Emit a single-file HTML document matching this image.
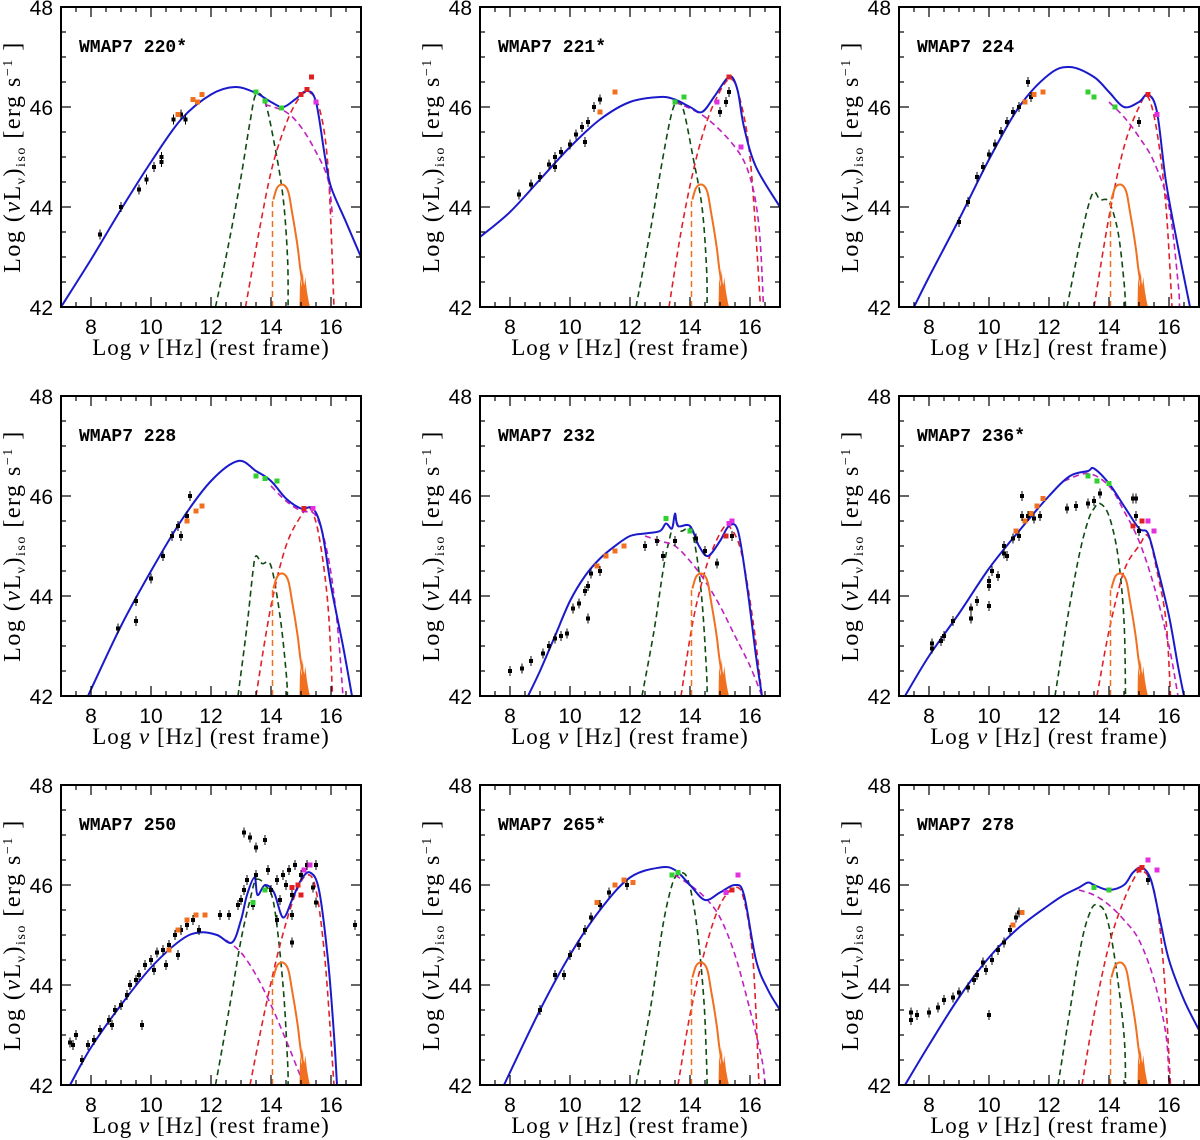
<!DOCTYPE html>
<html><head><meta charset="utf-8">
<style>
html,body{margin:0;padding:0;background:#fff;}
svg{display:block;}
.tk{font-family:"Liberation Sans",sans-serif;font-size:21px;fill:#000;}
.lab{font-family:"Liberation Serif",serif;font-size:23px;fill:#000;letter-spacing:1px;}
.ylab{font-family:"Liberation Serif",serif;font-size:24px;fill:#000;letter-spacing:1.5px;}
.ttl{font-family:"Liberation Mono",monospace;font-size:18px;font-weight:bold;fill:#000;}
</style></head>
<body>
<svg id="fig" width="1200" height="1140" viewBox="0 0 1200 1140" xmlns="http://www.w3.org/2000/svg"></svg>
<script>
const titles=["WMAP7 220*","WMAP7 221*","WMAP7 224","WMAP7 228","WMAP7 232","WMAP7 236*","WMAP7 250","WMAP7 265*","WMAP7 278"];
const xTicks=[8,10,12,14,16];
const yTicks=[42,44,46,48];
const blueCurves=[
[[7,42],[8,42.95],[9,43.95],[10,44.9],[11,45.75],[12,46.25],[12.8,46.4],[13.5,46.28],[14,46.1],[14.4,46.0],[14.8,46.15],[15.2,46.32],[15.5,46.1],[15.8,45.0],[16,44.4],[16.5,43.7],[17,43.0]],
[[7,43.4],[8,43.9],[9,44.55],[10,45.2],[11,45.75],[12,46.1],[13,46.2],[13.5,46.15],[14,46.0],[14.4,45.9],[14.8,46.2],[15.2,46.55],[15.4,46.6],[15.6,46.3],[15.8,45.6],[16.2,44.8],[17,44.0]],
[[7.5,42],[8,42.6],[9,43.75],[10,44.95],[11,46.0],[12,46.65],[12.7,46.8],[13.5,46.6],[14,46.3],[14.5,46.0],[15,46.1],[15.3,46.25],[15.6,45.9],[15.9,44.5],[16.3,43.2],[16.7,42]],
[[7.9,42],[9,43.4],[10,44.5],[11,45.5],[12,46.3],[12.9,46.7],[13.5,46.5],[14,46.3],[14.5,45.95],[15,45.75],[15.4,45.75],[15.7,45.3],[16,44.2],[16.4,43],[16.7,42]],
[[8.6,42],[9,42.5],[9.5,43.2],[10,43.9],[10.5,44.4],[11,44.75],[11.5,45.0],[12,45.2],[12.5,45.25],[13,45.3],[13.2,45.45],[13.4,45.35],[13.5,45.65],[13.6,45.4],[14,45.4],[14.3,45.0],[14.6,44.8],[15,45.1],[15.3,45.4],[15.6,45.3],[15.9,44.2],[16.2,42.8],[16.4,42]],
[[7.2,42],[8,42.8],[9,43.65],[10,44.55],[11,45.3],[12,46.0],[12.7,46.4],[13.3,46.5],[13.5,46.55],[14,46.25],[14.5,45.8],[15,45.35],[15.3,45.25],[15.6,44.6],[16,43.6],[16.3,42.6],[16.5,42]],
[[7.3,42],[8,42.75],[9,43.6],[10,44.35],[11,44.9],[11.6,45.05],[12.2,45.0],[12.7,44.85],[13,45.3],[13.2,45.8],[13.45,46.15],[13.55,45.8],[13.8,46.0],[14.1,45.85],[14.4,45.35],[14.7,45.7],[15,46.1],[15.3,46.25],[15.6,45.9],[15.9,44.5],[16.1,43],[16.2,42]],
[[7.8,42],[9,43.5],[10,44.6],[11,45.5],[12,46.15],[13,46.35],[13.5,46.3],[14,46.0],[14.5,45.7],[15,45.85],[15.5,46.0],[15.8,45.8],[16.2,44.5],[16.6,43.9],[17,43.5]],
[[7.2,42],[8,42.8],[9,43.75],[10,44.55],[11,45.15],[12,45.6],[12.5,45.8],[13,45.95],[13.3,46.05],[13.5,46.0],[14,45.9],[14.5,46.0],[14.8,46.25],[15.1,46.35],[15.4,46.1],[15.7,45.3],[16,44.5],[16.5,43.7],[17,43.1]]
];
const magentaCurves=[
[[13.8,46.05],[14.5,45.9],[15,45.6],[15.5,45.1],[15.9,44.55],[16.05,43.8]],
[[13.5,46.1],[14.5,45.8],[15.5,45.2],[16,44.6],[16.3,43.6],[16.45,42]],
[[14,46.1],[14.5,45.8],[15,45.4],[15.5,44.9],[16,44.0],[16.3,42.5],[16.35,42]],
[[14,46.2],[14.5,45.9],[15,45.7],[15.5,45.6],[15.9,44.8],[16.2,43.5],[16.4,42]],
[[12.5,45.2],[13,45.1],[13.5,45.0],[14,44.7],[14.5,44.3],[15,43.8],[15.5,43.2],[16,42.6],[16.4,42]],
[[12.5,46.3],[13.3,46.45],[14,46.2],[14.5,45.7],[15,45.1],[15.5,44.2],[16,43.0],[16.3,42]],
[[12.5,44.9],[13,44.65],[13.5,44.2],[14,43.6],[14.5,42.9],[14.9,42.3],[15.1,42]],
[[13.5,46.2],[14,46.0],[14.5,45.75],[15,45.35],[15.5,44.6],[16,43.5],[16.4,42.5],[16.5,42]],
[[13,45.9],[13.5,45.8],[14,45.6],[14.5,45.3],[15,44.9],[15.5,44.1],[15.9,43.0],[16,42]]
];
const greenCurves=[
[[12.15,42],[12.6,43.3],[13,44.6],[13.3,45.7],[13.5,46.25],[13.8,46.1],[14.1,45.3],[14.4,44.2],[14.55,43],[14.57,42]],
[[12.2,42],[12.7,43.6],[13.1,45.0],[13.4,45.9],[13.6,46.1],[13.8,45.9],[14.1,45.0],[14.4,44.0],[14.55,42.8],[14.57,42]],
[[12.6,42],[13,43.2],[13.3,44.0],[13.5,44.3],[13.7,44.15],[14.0,44.1],[14.3,43.5],[14.5,42.5],[14.55,42]],
[[12.9,42],[13.2,43.4],[13.4,44.5],[13.5,44.8],[13.7,44.65],[14.0,44.6],[14.3,43.6],[14.5,42.5],[14.55,42]],
[[12.4,42],[12.8,43.3],[13.1,44.5],[13.3,45.1],[13.5,45.5],[13.7,45.3],[14,45.35],[14.2,44.9],[14.4,43.9],[14.55,42.5],[14.57,42]],
[[12.2,42],[12.6,43.5],[13,44.8],[13.3,45.5],[13.5,45.75],[13.7,45.85],[14,45.6],[14.3,44.8],[14.5,43.5],[14.55,42]],
[[12.15,42],[12.6,43.5],[13,44.9],[13.3,45.7],[13.5,46.1],[13.8,46.0],[14.1,45.6],[14.4,44.0],[14.55,42.5],[14.57,42]],
[[12.2,42],[12.7,43.6],[13.1,45.2],[13.4,46.0],[13.6,46.2],[13.9,46.15],[14.2,45.3],[14.45,43.8],[14.55,42.5],[14.57,42]],
[[12.3,42],[12.7,43.5],[13.1,44.9],[13.4,45.5],[13.6,45.6],[13.9,45.4],[14.2,44.5],[14.5,43],[14.55,42]]
];
const redCurves=[
[[13.15,42],[13.6,43.5],[14,44.7],[14.4,45.5],[14.8,46.05],[15.2,46.3],[15.6,46.0],[15.9,44.8],[16.1,42]],
[[13.3,42],[13.7,43.5],[14.1,44.7],[14.5,45.6],[14.9,46.2],[15.3,46.55],[15.6,46.3],[16,45.0],[16.35,42]],
[[13.5,42],[14,43.8],[14.5,45.2],[15,46.0],[15.3,46.2],[15.6,45.5],[15.9,44],[16.1,42]],
[[13.5,42],[14,43.8],[14.5,45.0],[15,45.6],[15.3,45.75],[15.6,45.2],[15.9,43.8],[16.05,42]],
[[13.7,42],[14.1,43.5],[14.5,44.5],[14.8,45.0],[15.1,45.35],[15.3,45.4],[15.7,44.9],[16.1,43.5],[16.4,42]],
[[13.6,42],[14,43.3],[14.5,44.5],[15,45.0],[15.3,45.2],[15.6,44.5],[15.9,43.5],[16.05,42]],
[[13.3,42],[13.8,43.5],[14.3,44.8],[14.8,45.8],[15.2,46.2],[15.5,45.9],[15.8,44.5],[16.1,42]],
[[13.6,42],[14,43.4],[14.5,44.7],[15,45.6],[15.5,45.95],[15.8,45.7],[16.1,44.5],[16.3,42]],
[[13.1,42],[13.5,43.4],[14,44.8],[14.5,45.7],[14.9,46.2],[15.1,46.3],[15.5,45.9],[15.8,44.5],[16.05,42]]
];
const orangeTemplate=[[14.08,44.15],[14.2,44.38],[14.35,44.45],[14.5,44.4],[14.6,44.25],[14.7,43.9],[14.8,43.55],[14.9,43.15],[14.98,42.75],[15.05,42.5],[15.12,42.35],[15.2,42.15],[15.25,42]];
const blackPts=[
[[8.3,43.45],[9,44],[9.6,44.35],[9.85,44.55],[10.1,44.8],[10.35,45.0],[10.35,44.9],[10.75,45.75],[11,45.85],[11.15,45.75]],
[[8.3,44.25],[8.7,44.45],[9,44.6],[9.3,44.85],[9.5,45.0],[9.7,45.1],[10,45.25],[10.2,45.45],[10.4,45.6],[10.6,45.7],[10.8,46.0],[11,46.15],[9.5,44.8],[10.5,45.3],[15,45.9],[15.2,46.1],[15.3,46.3]],
[[9,43.7],[9.3,44.1],[9.6,44.6],[9.8,44.8],[10,45.05],[10.2,45.25],[10.4,45.5],[10.6,45.7],[10.8,45.9],[11,46.0],[11.3,46.5],[11.4,46.2],[15,45.7]],
[[8.9,43.35],[9.5,43.5],[9.5,43.9],[10,44.35],[10.4,44.8],[10.7,45.2],[10.9,45.4],[11,45.2],[11.2,45.6],[11.3,46.0]],
[[8,42.5],[8.4,42.55],[8.7,42.7],[9.1,42.85],[9.3,43.0],[9.5,43.15],[9.7,43.2],[9.9,43.25],[10.1,43.75],[10.3,43.85],[10.5,44.1],[10.6,44.2],[10.7,44.45],[10.6,43.55],[11,44.5],[12.5,45.0],[12.9,45.1],[13.1,44.8],[13.5,45.1],[14.2,45.15],[14.5,44.9],[14.9,44.65],[15.4,45.2]],
[[8.1,43.05],[8.1,42.95],[8.4,43.1],[8.5,43.2],[8.8,43.5],[9.4,43.75],[9.4,43.55],[9.6,43.9],[10,44.3],[10,44.2],[10,43.8],[10.1,44.5],[10.3,44.4],[10.5,44.85],[10.5,45.0],[10.6,44.8],[10.8,45.15],[11,45.2],[11.1,45.6],[11.1,46.0],[11.3,45.6],[11.5,45.55],[11.7,45.6],[12.6,45.75],[12.9,45.8],[13.3,45.85],[13.5,45.9],[13.7,46.05],[14.8,45.95],[14.9,45.95],[14.9,45.6],[15,45.3]],
[[7.3,42.85],[7.4,42.8],[7.5,43.0],[7.7,42.5],[7.9,42.8],[8.1,42.9],[8.3,43.1],[8.6,43.3],[8.8,43.5],[9,43.6],[9.2,43.8],[9.3,44.0],[9.5,44.1],[9.6,44.2],[9.8,44.4],[10,44.5],[10.2,44.65],[10.1,44.3],[10.4,44.7],[10.6,44.8],[10.8,45.0],[11,45.1],[11.2,45.2],[11.4,45.3],[10.9,44.6],[11.6,45.1],[8.7,43.2],[9.7,43.2],[10.5,44.4],[12.3,45.4],[12.6,45.4],[12.9,45.6],[13,45.7],[13.1,47.05],[13.3,46.95],[13.5,46.75],[13.8,46.9],[13.2,46.1],[13.5,46.2],[13.9,46.3],[14.2,46.1],[14.4,46.2],[14.6,46.3],[14.8,46.4],[15,46.2],[15.2,46.4],[14.5,46.0],[14.7,45.8],[15.5,46.4],[15.4,45.95],[15.5,45.65],[16.8,45.2],[14.2,45.3],[14.7,44.85],[14.7,45.4],[13.1,45.9],[13.4,45.6],[14.0,45.9],[14.3,45.7]],
[[9,43.5],[9.5,44.2],[9.8,44.2],[10,44.6],[10.3,44.8],[10.5,45.1],[10.7,45.35],[11,45.6],[11.3,45.85],[11.9,46.0]],
[[7.4,43.45],[7.4,43.3],[7.6,43.4],[8,43.45],[8.3,43.55],[8.5,43.7],[8.8,43.75],[9,43.85],[9.3,43.95],[9.5,44.1],[9.6,44.2],[9.8,44.45],[9.9,44.3],[10,43.4],[10.1,44.5],[10.3,44.7],[10.5,44.85],[10.7,45.1],[10.9,45.35],[11,45.45],[15.3,46.1]]
];
const orangePts=[
[[10.9,45.85],[11.4,46.15],[11.7,46.25],[11.55,46.1]],
[[11,45.9],[11.5,46.3]],
[[11.5,46.25],[11.8,46.3],[11.2,46.1]],
[[11.2,45.5],[11.5,45.7],[11.7,45.8]],
[[10.9,44.6],[11.2,44.8],[11.5,44.9],[11.8,45.0]],
[[10.9,45.3],[11.2,45.5],[11.4,45.65],[11.6,45.8],[11.8,45.95]],
[[11.2,45.3],[11.5,45.4],[11.8,45.4],[10.9,45.1],[10.6,44.7]],
[[10.9,45.65],[11.5,46.0],[11.8,46.1],[12.1,46.05]],
[[10.8,45.2],[11.1,45.45]]
];
const greenPts=[
[[13.5,46.3],[13.8,46.12],[14.35,45.98]],
[[13.5,46.1],[13.8,46.2]],
[[13.3,46.3],[13.5,46.2],[14.2,46.0]],
[[13.5,46.4],[13.8,46.35],[14.2,46.3]],
[[13.2,45.55],[14.0,45.3]],
[[13.3,46.4],[13.6,46.3],[14.0,46.25]],
[[13.4,45.65],[13.8,45.9]],
[[13.4,46.2],[13.6,46.25]],
[[13.5,45.95],[14,45.9]]
];
const redPts=[
[[15,46.25],[15.2,46.35],[15.35,46.6]],
[[15.3,46.6]],
[[15.3,46.25]],
[[15.1,45.75]],
[[15.2,45.2]],
[[14.8,45.4],[15.1,45.5]],
[[14.7,45.95],[15.0,45.8],[14.9,46.0]],
[[15.4,45.9]],
[[15,46.3],[15.1,46.35]]
];
const magentaPts=[
[[15.5,46.1]],
[[15.7,45.2],[14.9,46.1]],
[[15.6,45.85]],
[[15.4,45.75]],
[[15.3,45.45],[15.4,45.5]],
[[15.3,45.5],[15.5,45.3]],
[[15.3,46.4],[15.1,46.3]],
[[15.2,45.85],[15.6,46.2]],
[[15.3,46.5],[15.6,46.3]]
];

const NS="http://www.w3.org/2000/svg";
const svg=document.getElementById('fig');
const colX=[61,480,899], rowY=[7,396,785], W=300, H=300;
function el(tag,attrs,parent){const e=document.createElementNS(NS,tag);for(const k in attrs)e.setAttribute(k,attrs[k]);(parent||svg).appendChild(e);return e;}
function smooth(pts){
  if(pts.length<2)return "";
  let d="M"+pts[0][0].toFixed(1)+","+pts[0][1].toFixed(1);
  for(let i=0;i<pts.length-1;i++){
    const p0=pts[i-1]||pts[i],p1=pts[i],p2=pts[i+1],p3=pts[i+2]||p2;
    const c1=[p1[0]+(p2[0]-p0[0])/6,p1[1]+(p2[1]-p0[1])/6];
    const c2=[p2[0]-(p3[0]-p1[0])/6,p2[1]-(p3[1]-p1[1])/6];
    d+=" C"+c1[0].toFixed(1)+","+c1[1].toFixed(1)+" "+c2[0].toFixed(1)+","+c2[1].toFixed(1)+" "+p2[0].toFixed(1)+","+p2[1].toFixed(1);
  }
  return d;
}
for(let p=0;p<9;p++){
  const x0=colX[p%3], y0=rowY[Math.floor(p/3)];
  const sx=v=>x0+(v-7)*W/10, sy=v=>y0+(48-v)*H/6;
  const g=el('g',{});
  
  
  const defs=el('clipPath',{id:'c'+p},g);
  el('rect',{x:x0,y:y0,width:W,height:H},defs);
  const plot=el('g',{'clip-path':'url(#c'+p+')'},g);
  const line=(arr,color,dash,w,name)=>{
    const e=el('path',{d:smooth(arr.map(q=>[sx(q[0]),sy(q[1])])),fill:'none',stroke:color,'stroke-width':w},plot);
    if(dash)e.setAttribute('stroke-dasharray',dash);
    
    
  };
  line(greenCurves[p],'#0f4a12','6,4',1.6,'torus-component');
  line(redCurves[p],'#e0202a','6,4',1.6,'disk-component');
  line(magentaCurves[p],'#c020c0','6,4',1.6,'synchrotron-component');
  const ov=el('path',{d:'M'+sx(14.05)+','+sy(42)+' L'+sx(14.05)+','+sy(44.15),stroke:'#f07020','stroke-width':1.5,'stroke-dasharray':'6,4',fill:'none'},plot);
  
  
  line(orangeTemplate,'#f07020',null,2,'host-template');
  const tail=el('polygon',{points:[[14.95,42],[14.97,42.6],[15.02,42.4],[15.06,42.75],[15.1,42.35],[15.14,42.6],[15.2,42.3],[15.26,42.1],[15.3,42]].map(q=>sx(q[0])+','+sy(q[1])).join(' '),fill:'#f07020'},plot);
  
  
  line(blueCurves[p],'#1a1acc',null,2,'total-model');
  const dots=(arr,color,s,name,err)=>{
    arr.forEach(q=>{
      const cx=sx(q[0]),cy=sy(q[1]);
      if(err){el('line',{x1:cx,x2:cx,y1:cy-5,y2:cy+5,stroke:color,'stroke-width':1},plot);}
      const r=el('rect',{x:cx-s/2,y:cy-s/2,width:s,height:s,fill:color},plot);
      
      
    });
  };
  dots(blackPts[p],'#000',4,'data-point',true);
  dots(orangePts[p],'#f07020',5,'nir-point',false);
  dots(greenPts[p],'#30d030',5,'wise-point',false);
  dots(redPts[p],'#e02020',5,'optical-point',false);
  dots(magentaPts[p],'#e030e0',5,'uv-point',false);
  const fr=el('rect',{x:x0,y:y0,width:W,height:H,fill:'none',stroke:'#000','stroke-width':2},g);
  
  
  for(let v=7.5;v<17;v+=0.5){
    const len=(v%2===0)?10:5, X=sx(v);
    el('line',{x1:X,x2:X,y1:y0+H,y2:y0+H-len,stroke:'#000','stroke-width':1.2},g);
    el('line',{x1:X,x2:X,y1:y0,y2:y0+len,stroke:'#000','stroke-width':1.2},g);
  }
  for(let v=42.5;v<48;v+=0.5){
    const len=(v%2===0)?10:5, Y=sy(v);
    el('line',{x1:x0,x2:x0+len,y1:Y,y2:Y,stroke:'#000','stroke-width':1.2},g);
    el('line',{x1:x0+W,x2:x0+W-len,y1:Y,y2:Y,stroke:'#000','stroke-width':1.2},g);
  }
  xTicks.forEach(v=>{const t=el('text',{x:sx(v),y:y0+H+27,'text-anchor':'middle',class:'tk'},g);t.textContent=v;
    });
  yTicks.forEach(v=>{const t=el('text',{x:x0-8,y:sy(v)+8,'text-anchor':'end',class:'tk'},g);t.textContent=v;
    });
  const xl=el('text',{x:x0+W/2,y:y0+H+48,'text-anchor':'middle',class:'lab'},g);
  xl.innerHTML='Log <tspan font-style="italic">ν</tspan> [Hz] (rest frame)';
  
  
  const yl=el('text',{x:0,y:0,'text-anchor':'middle',class:'ylab',transform:'translate('+(x0-41)+','+(y0+H/2)+') rotate(-90)'},g);
  yl.innerHTML='Log (<tspan font-style="italic">ν</tspan>L<tspan font-size="14" dy="5">ν</tspan><tspan dy="-5">)</tspan><tspan font-size="14" dy="5">iso</tspan><tspan dy="-5"> [erg s</tspan><tspan font-size="14" dy="-8">−1</tspan><tspan dy="8"> ]</tspan>';
  
  
  const tt=el('text',{x:x0+18,y:y0+45,class:'ttl'},g);
  tt.textContent=titles[p];
  
  
}
</script>
</body></html>
